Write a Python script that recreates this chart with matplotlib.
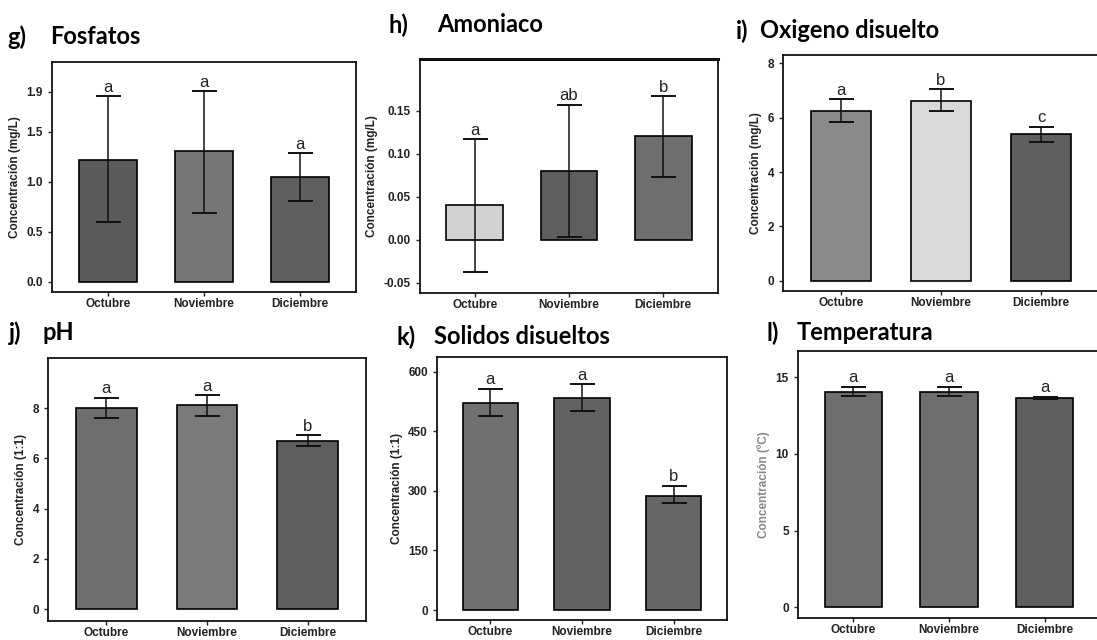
import numpy as np
import matplotlib
matplotlib.use('Agg')
import matplotlib.pyplot as plt

plt.rcParams['font.family'] = ['Liberation Sans', 'DejaVu Sans']

meses = ['Octubre', 'Noviembre', 'Diciembre']

# g) Fosfatos
fosf_media = [1.22, 1.31, 1.05]
fosf_low = [0.60, 0.69, 0.81]
fosf_high = [1.86, 1.91, 1.29]
fosf_letras = ['a', 'a', 'a']

# h) Amoniaco
amon_media = [0.040, 0.080, 0.120]
amon_low = [-0.038, 0.003, 0.073]
amon_high = [0.117, 0.157, 0.167]
amon_letras = ['a', 'ab', 'b']

# i) Oxigeno disuelto
oxi_media = [6.25, 6.62, 5.40]
oxi_low = [5.85, 6.25, 5.12]
oxi_high = [6.67, 7.05, 5.67]
oxi_letras = ['a', 'b', 'c']

# j) pH
ph_media = [8.02, 8.12, 6.70]
ph_low = [7.60, 7.68, 6.50]
ph_high = [8.42, 8.52, 6.92]
ph_letras = ['a', 'a', 'b']

# k) Solidos disueltos
sol_media = [522, 534, 288]
sol_low = [489, 501, 270]
sol_high = [557, 568, 313]
sol_letras = ['a', 'a', 'b']

# l) Temperatura
temp_media = [14.05, 14.05, 13.65]
temp_low = [13.75, 13.75, 13.57]
temp_high = [14.38, 14.38, 13.72]
temp_letras = ['a', 'a', 'a']

paneles = [
    # tag, title, media, low, high, letras, colores, ylim, yticks, ylabels, ylabel, rect(px), tag pos, title pos
    ('g)', 'Fosfatos', fosf_media, fosf_low, fosf_high, fosf_letras,
     ['#5b5b5b', '#777777', '#5f5f5f'], (-0.1, 2.2), [0, 0.5, 1.0, 1.5, 1.9],
     ['0.0', '0.5', '1.0', '1.5', '1.9'], 'Concentración (mg/L)',
     (52, 62, 356, 292), (7, 37), (50, 37)),
    ('h)', 'Amoniaco', amon_media, amon_low, amon_high, amon_letras,
     ['#d2d2d2', '#5e5e5e', '#6e6e6e'], (-0.062, 0.21), [-0.05, 0, 0.05, 0.10, 0.15],
     ['-0.05', '0.00', '0.05', '0.10', '0.15'], 'Concentración (mg/L)',
     (420, 59, 718, 293), (389, 25), (437, 25)),
    ('i)', 'Oxigeno disuelto', oxi_media, oxi_low, oxi_high, oxi_letras,
     ['#8a8a8a', '#d9d9d9', '#5f5f5f'], (-0.37, 8.3), [0, 2, 4, 6, 8],
     ['0', '2', '4', '6', '8'], 'Concentración (mg/L)',
     (783, 55, 1099, 291), (736, 31), (760, 31)),
    ('j)', 'pH', ph_media, ph_low, ph_high, ph_letras,
     ['#6e6e6e', '#7a7a7a', '#5e5e5e'], (-0.47, 10.0), [0, 2, 4, 6, 8],
     ['0', '2', '4', '6', '8'], 'Concentración (1:1)',
     (48, 358, 366, 621), (9, 333), (42, 333)),
    ('k)', 'Solidos disueltos', sol_media, sol_low, sol_high, sol_letras,
     ['#707070', '#626262', '#666666'], (-25, 637), [0, 150, 300, 450, 600],
     ['0', '150', '300', '450', '600'], 'Concentración (1:1)',
     (437, 357, 727, 620), (396, 337), (434, 337)),
    ('l)', 'Temperatura', temp_media, temp_low, temp_high, temp_letras,
     ['#6e6e6e', '#6e6e6e', '#5e5e5e'], (-0.7, 16.7), [0, 5, 10, 15],
     ['0', '5', '10', '15'], 'Concentración (ºC)',
     (798, 351, 1100, 618), (766, 333), (797, 333)),
]

W, H = 1097, 640
fig = plt.figure(figsize=(W / 100, H / 100), dpi=100)

for (tag, titulo, media, low, high, letras, colores, ylim, yt, ytl, ylab,
     rect, tpos, ttpos) in paneles:
    x0, y0, x1, y1 = rect
    ax = fig.add_axes([x0 / W, 1 - y1 / H, (x1 - x0) / W, (y1 - y0) / H])
    x = np.arange(1, 4)
    media = np.array(media)
    err = [media - np.array(low), np.array(high) - media]
    ax.bar(x, media, width=0.6, color=colores, edgecolor='black', linewidth=1.2, zorder=2)
    ax.errorbar(x, media, yerr=err, fmt='none', ecolor='#111111', elinewidth=1.1,
                capsize=9, capthick=1.4, zorder=3)
    span = ylim[1] - ylim[0]
    for xi, hi, le in zip(x, high, letras):
        ax.text(xi, hi + span * 0.006, le, ha='center', va='bottom', fontsize=12, color='#222222')
    ax.set_xlim(0.42, 3.58)
    ax.set_ylim(*ylim)
    ax.set_yticks(yt)
    ax.set_yticklabels(ytl)
    ax.set_xticks(x)
    ax.set_xticklabels(meses)
    ax.tick_params(axis='y', labelsize=8.5, length=3, width=1, colors='#222222')
    ax.tick_params(axis='x', labelsize=8.5, length=3, width=1, pad=1.5, colors='#222222')
    for lbl in ax.get_xticklabels() + ax.get_yticklabels():
        lbl.set_fontweight('bold')
    ycolor = '#888888' if tag == 'l)' else '#222222'
    ax.set_ylabel(ylab, fontsize=8.5, fontweight='bold', color=ycolor, labelpad=4)
    for s in ax.spines.values():
        s.set_linewidth(1.3)
        s.set_color('#111111')
    if tag == 'h)':
        ax.spines['top'].set_linewidth(2.2)
    fig.text(tpos[0] / W, 1 - tpos[1] / H, tag, fontsize=17, fontweight='bold',
             family=['Lato', 'DejaVu Sans'], va='center', ha='left')
    fig.text(ttpos[0] / W, 1 - ttpos[1] / H, titulo, fontsize=17, fontweight='bold',
             family=['Lato', 'DejaVu Sans'], va='center', ha='left')

fig.savefig('out.png', dpi=100)
